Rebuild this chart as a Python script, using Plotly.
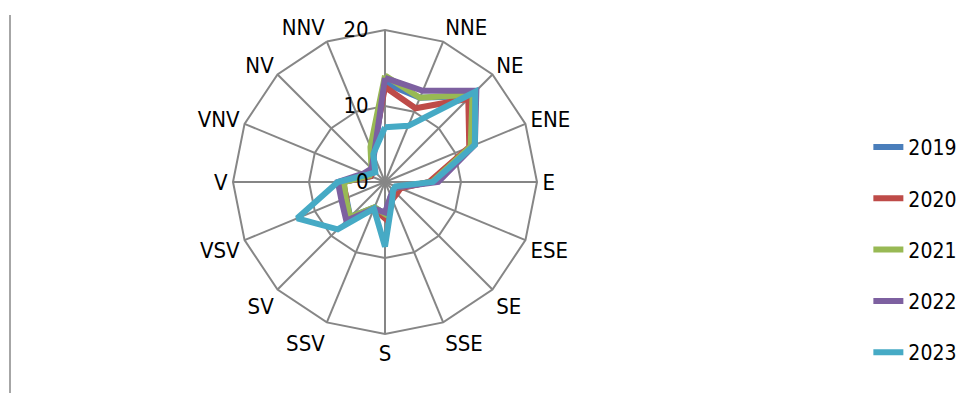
import plotly.graph_objects as go

# Wind directions (clockwise from north); the north label is left blank
directions = ["N", "NNE", "NE", "ENE", "E", "ESE", "SE", "SSE",
              "S", "SSV", "SV", "VSV", "V", "VNV", "NV", "NNV"]
direction_labels = ["", "NNE", "NE", "ENE", "E", "ESE", "SE", "SSE",
                    "S", "SSV", "SV", "VSV", "V", "VNV", "NV", "NNV"]

years = ["2019", "2020", "2021", "2022", "2023"]

freq_2019 = [13.0, 12.0, 16.0, 12.3, 6.0, 2.0, 1.8, 2.0, 4.2, 3.6, 6.5, 5.5, 5.6, 2.0, 2.2, 4.0]
freq_2020 = [12.5, 10.5, 15.5, 12.0, 5.8, 2.2, 2.2, 2.5, 4.8, 3.8, 7.0, 5.5, 5.5, 2.0, 2.2, 4.2]
freq_2021 = [14.0, 12.0, 16.3, 12.2, 6.2, 1.8, 1.5, 2.2, 4.2, 3.6, 6.5, 5.6, 5.4, 2.2, 2.5, 5.0]
freq_2022 = [13.7, 13.0, 17.0, 12.8, 7.0, 1.8, 1.5, 2.0, 4.0, 3.8, 7.2, 6.2, 6.2, 3.0, 2.5, 3.8]
freq_2023 = [7.2, 8.0, 16.8, 12.8, 6.3, 1.5, 1.5, 2.5, 8.5, 3.8, 8.8, 12.5, 6.2, 2.5, 1.8, 4.0]

series = [freq_2019, freq_2020, freq_2021, freq_2022, freq_2023]
colors = ["#4a7ebb", "#be4b48", "#98b954", "#7d60a0", "#46aac5"]

radial_ticks = [0, 10, 20]

FONT = "DejaVu Sans Condensed, Liberation Sans Narrow, sans-serif"
GRID = "#868686"

fig = go.Figure()
for name, vals, col in zip(years, series, colors):
    fig.add_trace(go.Scatterpolar(
        r=vals + vals[:1],
        theta=directions + directions[:1],
        mode="lines",
        name=name,
        legendgroup=name,
        line=dict(color=col, width=6),
        hoverinfo="skip",
    ))

W, H = 967, 403
cx, cy, rad = 385, 182, 152

fig.update_layout(
    width=W, height=H,
    margin=dict(l=0, r=0, t=0, b=0),
    paper_bgcolor="white",
    plot_bgcolor="white",
    font=dict(family=FONT, size=22, color="black"),
    polar=dict(
        domain=dict(x=[(cx - rad) / W, (cx + rad) / W],
                    y=[(H - cy - rad) / H, (H - cy + rad) / H]),
        bgcolor="white",
        gridshape="linear",
        radialaxis=dict(
            range=[0, 20],
            tickvals=radial_ticks,
            ticktext=[str(v) + "\u00a0\u00a0" for v in radial_ticks],
            angle=90,
            tickangle=90,
            side="counterclockwise",
            showline=False,
            ticks="",
            gridcolor=GRID,
            gridwidth=2,
            tickfont=dict(family=FONT, size=22, color="black"),
        ),
        angularaxis=dict(
            type="category",
            categoryarray=directions,
            tickvals=directions,
            ticktext=direction_labels,
            direction="clockwise",
            rotation=90,
            showline=True,
            linecolor=GRID,
            linewidth=2,
            gridcolor=GRID,
            gridwidth=2,
            ticks="",
            tickfont=dict(family=FONT, size=22, color="black"),
        ),
    ),
    legend=dict(
        x=0.898, y=0.38, xanchor="left", yanchor="middle",
        font=dict(family=FONT, size=21, color="black"),
        tracegroupgap=21,
        bgcolor="rgba(0,0,0,0)",
    ),
    showlegend=True,
    shapes=[dict(type="line", xref="paper", yref="paper",
                 x0=10 / W, x1=10 / W, y0=(H - 393) / H, y1=(H - 15) / H,
                 line=dict(color="#a6a6a6", width=2))],
)

fig.write_html("out.html")
